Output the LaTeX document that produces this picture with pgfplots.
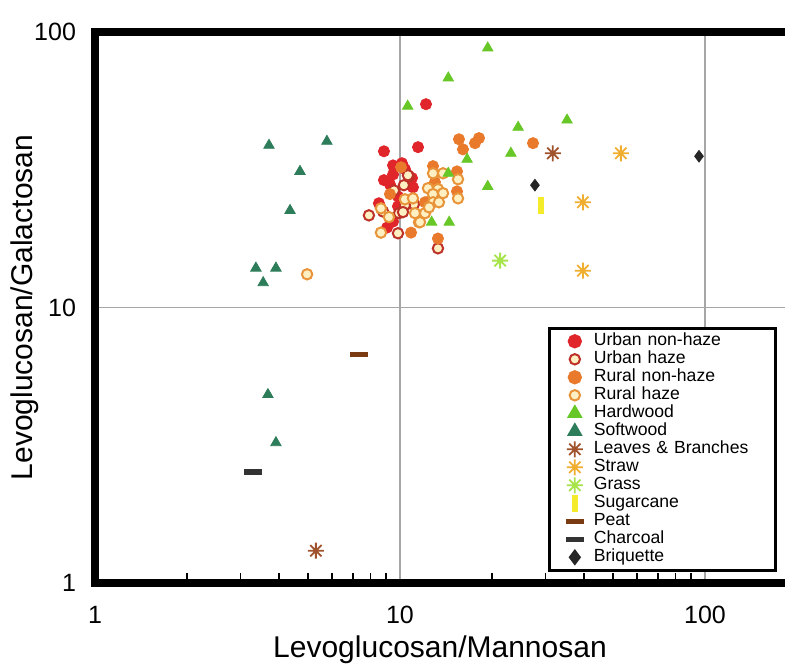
\documentclass[border=0pt]{standalone}
\usepackage{fontspec}
\setmainfont{Liberation Sans}
\usepackage{pgfplots}
\pgfplotsset{compat=1.18}

\definecolor{urbred}{HTML}{E0252B}
\definecolor{urbhaze}{HTML}{BE3128}
\definecolor{cream}{HTML}{FFF0C4}
\definecolor{rurorange}{HTML}{E97A2B}
\definecolor{rurhaze}{HTML}{E8943A}
\definecolor{hardwood}{HTML}{66C726}
\definecolor{softwood}{HTML}{2E7D5A}
\definecolor{leaves}{HTML}{A0522D}
\definecolor{straw}{HTML}{F0AE30}
\definecolor{grass}{HTML}{A6E44A}
\definecolor{sugar}{HTML}{F4EC2A}
\definecolor{peat}{HTML}{7A3A12}
\definecolor{charcoal}{HTML}{333333}

% eight-armed asterisk
\pgfdeclareplotmark{ast8}{%
  \pgfpathmoveto{\pgfqpoint{0pt}{\pgfplotmarksize}}%
  \pgfpathlineto{\pgfqpoint{0pt}{-\pgfplotmarksize}}%
  \pgfpathmoveto{\pgfqpoint{\pgfplotmarksize}{0pt}}%
  \pgfpathlineto{\pgfqpoint{-\pgfplotmarksize}{0pt}}%
  \pgfpathmoveto{\pgfqpoint{0.707\pgfplotmarksize}{0.707\pgfplotmarksize}}%
  \pgfpathlineto{\pgfqpoint{-0.707\pgfplotmarksize}{-0.707\pgfplotmarksize}}%
  \pgfpathmoveto{\pgfqpoint{-0.707\pgfplotmarksize}{0.707\pgfplotmarksize}}%
  \pgfpathlineto{\pgfqpoint{0.707\pgfplotmarksize}{-0.707\pgfplotmarksize}}%
  \pgfusepathqstroke}

\begin{document}
\begin{tikzpicture}
\begin{axis}[
  scale only axis,
  width=345pt, height=275.5pt,
  xmode=log, ymode=log,
  xmin=1, xmax=183, ymin=1, ymax=100,
  xtick={1,10,100}, ytick={1,10,100},
  xticklabels={1,10,100}, yticklabels={1,10,100},
  minor xtick={2,3,4,5,6,7,8,9,20,30,40,50,60,70,80,90},
  yminorticks=false,
  grid=major,
  grid style={gray!70, line width=0.6pt},
  axis line style={draw=none},
  tick align=inside, tick pos=left,
  major tick length=0pt, minor tick length=5pt,
  minor tick style={black, line width=0.9pt},
  tick label style={font=\fontsize{12.5}{14}\selectfont},
  xticklabel style={yshift=-8pt},
  yticklabel style={xshift=-6pt},
  xlabel={Levoglucosan/Mannosan},
  ylabel={Levoglucosan/Galactosan},
  label style={font=\fontsize{15}{17}\selectfont},
  xlabel style={yshift=1pt},
  ylabel shift=-9pt,
  legend style={at={(0.657,0.465)}, anchor=north west,
    draw=black, line width=1.5pt, inner xsep=8pt, inner ysep=2pt,
    font=\fontsize{8.8}{9}\selectfont, row sep=0pt,
    nodes={inner xsep=5pt, inner ysep=0.4pt, text height=6.4pt,
      text depth=1.8pt, text width=78pt}},
  legend cell align=left,
]
\addplot[only marks, mark=*, mark size=2.8pt, draw=urbred, fill=urbred] coordinates {
(12.17,54.7) (11.46,38.2) (8.86,36.9) (9.49,32.8) (10.15,33.4) (9.49,30.4)
(8.86,29.0) (10.95,29.5) (11.03,27.3) (9.85,25.3) (8.53,23.9) (9.85,23.3)
(9.49,20.5) (9.07,19.5) (10.38,31.8) (9.27,28.0)
};
\addlegendentry{Urban non-haze}
\addplot[only marks, mark=*, mark size=2.6pt, line width=1pt, draw=urbhaze, fill=cream] coordinates {
(7.91,21.6) (9.85,18.6) (9.93,22.0) (10.30,27.8) (10.70,29.9) (9.56,26.6)
(11.11,23.7) (10.38,23.5) (13.32,16.4) (10.62,30.2) (10.23,22.2) (8.80,22.3)
};
\addlegendentry{Urban haze}
\addplot[only marks, mark=*, mark size=2.8pt, draw=rurorange, fill=rurorange] coordinates {
(10.08,32.3) (9.27,25.8) (10.87,18.7) (12.26,24.1) (12.45,27.1) (15.61,40.8)
(16.09,37.5) (17.62,39.5) (18.16,41.2) (27.3,39.5) (12.83,32.6) (15.38,31.2)
(13.02,28.5) (15.38,26.4) (12.08,24.1) (13.32,17.8)
};
\addlegendentry{Rural non-haze}
\addplot[only marks, mark=*, mark size=2.6pt, line width=1pt, draw=rurhaze, fill=cream] coordinates {
(8.66,22.9) (8.66,18.7) (10.38,24.7) (11.03,24.9) (11.20,22.0) (12.08,22.0)
(11.54,20.4) (9.20,21.3) (4.96,13.2) (12.83,30.7) (13.84,30.7) (15.50,29.2)
(12.35,27.1) (13.32,26.9) (13.84,26.0) (12.83,25.8) (12.83,24.1) (13.42,24.1)
(15.50,24.9) (12.45,23.1) (11.63,20.4)
};
\addlegendentry{Rural haze}
\addplot[only marks, mark=triangle*, mark size=3pt, draw=hardwood, fill=hardwood] coordinates {
(19.4,87.5) (14.4,68.1) (10.6,53.8) (24.4,45.1) (35.3,47.9) (23.1,36.3)
(16.6,34.5) (14.4,30.7) (19.4,27.5) (12.7,20.4) (14.5,20.4)
};
\addlegendentry{Hardwood}
\addplot[only marks, mark=triangle*, mark size=3pt, draw=softwood, fill=softwood] coordinates {
(3.72,38.8) (5.76,40.1) (4.70,31.2) (4.36,22.5) (3.37,13.9) (3.92,13.9)
(3.56,12.3) (3.69,4.83) (3.92,3.23)
};
\addlegendentry{Softwood}
\addplot[only marks, mark=ast8, mark size=4pt, line width=0.9pt, draw=leaves] coordinates {
(31.7,36.3) (5.30,1.31)
};
\addlegendentry{Leaves \& Branches}
\addplot[only marks, mark=ast8, mark size=4pt, line width=0.9pt, draw=straw] coordinates {
(53.0,36.3) (39.8,24.1) (39.8,13.6)
};
\addlegendentry{Straw}
\addplot[only marks, mark=ast8, mark size=4pt, line width=0.9pt, draw=grass] coordinates {
(21.3,14.8)
};
\addlegendentry{Grass}
\addplot[only marks, mark=|, mark size=4.3pt, line width=3pt, draw=sugar] coordinates {
(29.0,23.5)
};
\addlegendentry{Sugarcane}
\addplot[only marks, mark=-, mark size=4.5pt, line width=2.6pt, draw=peat] coordinates {
(7.34,6.75)
};
\addlegendentry{Peat}
\addplot[only marks, mark=-, mark size=4.5pt, line width=2.6pt, draw=charcoal] coordinates {
(3.30,2.53)
};
\addlegendentry{Charcoal}
\addplot[only marks, mark=diamond*, mark size=2.9pt, draw=black!85, fill=black!85] coordinates {
(27.7,27.8) (95.6,35.4)
};
\addlegendentry{Briquette}
\end{axis}
\draw[line width=4pt, line join=miter] (current axis.south east) -- (current axis.south west)
  -- (current axis.north west) -- (current axis.north east);
\pgfresetboundingbox
\path ([shift={(-47.5pt,-41.5pt)}]current axis.south west) rectangle ([yshift=16pt]current axis.north east);
\end{tikzpicture}
\end{document}
